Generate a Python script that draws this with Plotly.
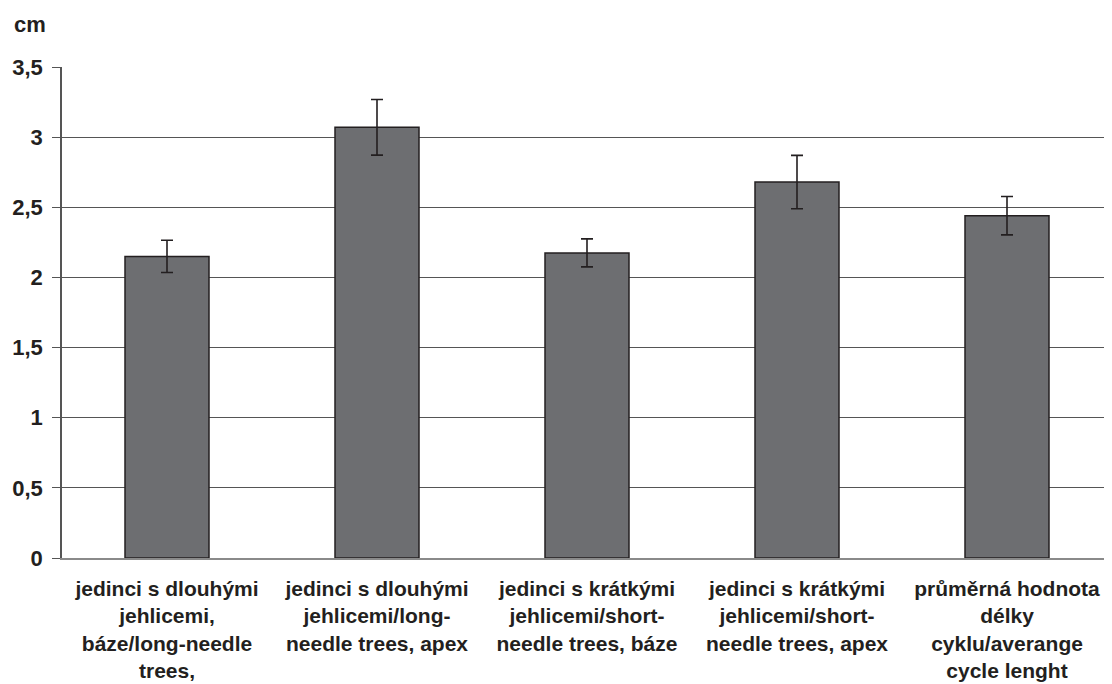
import plotly.graph_objects as go

categories = [
    "jedinci s dlouhými<br>jehlicemi,<br>báze/long-needle<br>trees,",
    "jedinci s dlouhými<br>jehlicemi/long-<br>needle trees, apex",
    "jedinci s krátkými<br>jehlicemi/short-<br>needle trees, báze",
    "jedinci s krátkými<br>jehlicemi/short-<br>needle trees, apex",
    "průměrná hodnota<br>délky<br>cyklu/averange<br>cycle lenght",
]
values = [2.15, 3.07, 2.175, 2.68, 2.44]
errors = [0.115, 0.198, 0.1, 0.19, 0.137]
y_ticks = [0, 0.5, 1, 1.5, 2, 2.5, 3, 3.5]
unit_label = "cm"

font_family = "Liberation Sans, Arial, sans-serif"
text_color = "#231f20"

# page body has an 8px default margin; compensate so the plot lands where the reference has it
fig = go.Figure(
    go.Bar(
        x=categories,
        y=values,
        marker=dict(color="#6d6e71", line=dict(color="#231f20", width=1.5)),
        error_y=dict(type="data", array=errors, visible=True,
                     color="#231f20", thickness=1.6, width=6),
    )
)

fig.update_layout(
    width=1104,
    height=676,
    margin=dict(l=54, r=0, t=59, b=126),
    paper_bgcolor="white",
    plot_bgcolor="white",
    separators=", ",
    bargap=0.6,
    showlegend=False,
    font=dict(family=font_family, size=22, color=text_color),
    xaxis=dict(
        showline=True,
        linecolor="#8a8a8a",
        linewidth=1.5,
        ticks="",
        automargin=False,
        tickfont=dict(family=font_family, size=21, color=text_color, weight="bold"),
        ticklabelstandoff=11,
    ),
    yaxis=dict(
        range=[0, 3.5],
        tickvals=y_ticks,
        showline=True,
        linecolor="#555555",
        linewidth=1.5,
        ticks="outside",
        ticklen=8,
        tickcolor="#555555",
        showgrid=True,
        gridcolor="#555555",
        gridwidth=1,
        zeroline=False,
        automargin=False,
        tickfont=dict(family=font_family, size=22, color=text_color, weight="bold"),
        ticklabelstandoff=5,
    ),
    annotations=[
        dict(
            text="<b>" + unit_label + "</b>",
            xref="paper", yref="paper",
            x=(12 - 62) / 1050, y=(558 - 24) / 491,
            xanchor="left", yanchor="middle",
            showarrow=False,
            font=dict(family=font_family, size=22, color=text_color),
        )
    ],
)

fig.write_html("out.html")
